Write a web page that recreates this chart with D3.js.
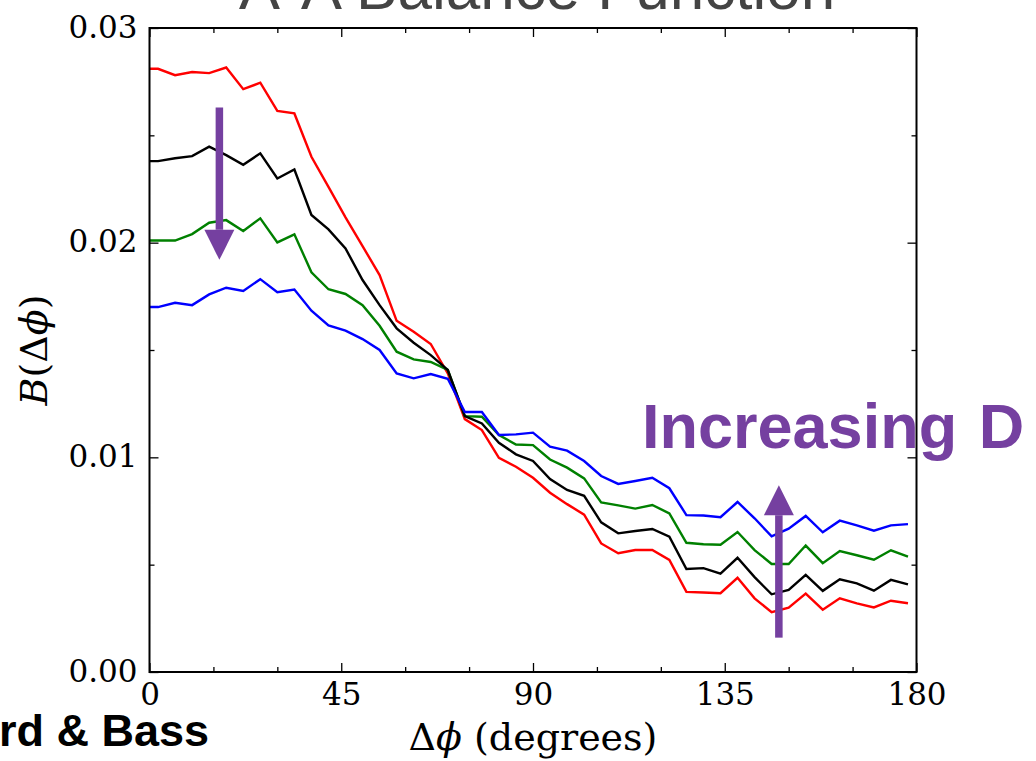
<!DOCTYPE html>
<html>
<head>
<meta charset="utf-8">
<script src="https://cdn.jsdelivr.net/npm/d3@7"></script>
<style>
  body { margin: 0; background: #fff; }
  svg { display: block; }
</style>
</head>
<body>
<div id="wrapper"></div>
<script>
// bin centres in degrees (line starts at the axis)
const angles = [0, 2, 6, 10, 14, 18, 22, 26, 30, 34, 38, 42, 46, 50, 54, 58, 62, 66, 70, 74,
  78, 82, 86, 90, 94, 98, 102, 106, 110, 114, 118, 122, 126, 130, 134, 138, 142, 146, 150,
  154, 158, 162, 166, 170, 174, 178]

const redValues = [0.0281, 0.0281, 0.0278, 0.02795, 0.0279, 0.02816, 0.02715, 0.02745, 0.02614,
  0.02602, 0.0240, 0.0226, 0.02118, 0.01984, 0.01849, 0.01636, 0.01585, 0.01528, 0.01391,
  0.01178, 0.01127, 0.00998, 0.00956, 0.00905, 0.00835, 0.00782, 0.00733, 0.00599, 0.00553,
  0.00568, 0.00568, 0.00522, 0.00373, 0.0037, 0.00367, 0.00439, 0.00343, 0.00279, 0.003,
  0.00365, 0.0029, 0.00343, 0.0032, 0.00301, 0.00332, 0.0032]

const blackValues = [0.0238, 0.0238, 0.02393, 0.02403, 0.02447, 0.02408, 0.02363, 0.02416,
  0.02299, 0.02341, 0.02129, 0.02062, 0.01973, 0.01826, 0.01709, 0.01601, 0.01534, 0.01476,
  0.01407, 0.01192, 0.01158, 0.01068, 0.01014, 0.00983, 0.00899, 0.00848, 0.00821, 0.00697,
  0.00646, 0.00657, 0.00666, 0.0063, 0.0048, 0.00484, 0.00458, 0.00532, 0.00442, 0.00362,
  0.00382, 0.00452, 0.00378, 0.00432, 0.00413, 0.00379, 0.00429, 0.00408]

const greenValues = [0.0201, 0.0201, 0.0201, 0.0204, 0.02093, 0.02105, 0.02054, 0.02113,
  0.02001, 0.02039, 0.01862, 0.01783, 0.01761, 0.01709, 0.01613, 0.01492, 0.01456, 0.01444,
  0.01407, 0.01192, 0.01189, 0.01104, 0.0106, 0.01057, 0.0099, 0.00952, 0.00902, 0.0079,
  0.00776, 0.00761, 0.00778, 0.00739, 0.00602, 0.00595, 0.00593, 0.00652, 0.00568, 0.00503,
  0.00503, 0.00589, 0.00507, 0.00563, 0.00544, 0.00523, 0.00567, 0.00537]

const blueValues = [0.0170, 0.0170, 0.0172, 0.01709, 0.01759, 0.0179, 0.01775, 0.0183,
  0.01769, 0.01782, 0.01683, 0.01615, 0.0159, 0.01551, 0.015, 0.01391, 0.01368, 0.01388,
  0.01366, 0.01211, 0.01211, 0.01104, 0.01107, 0.01115, 0.0105, 0.01031, 0.00983, 0.00913,
  0.00876, 0.0089, 0.00905, 0.00856, 0.00731, 0.00729, 0.00721, 0.00792, 0.00716, 0.00632,
  0.00668, 0.00727, 0.00651, 0.00705, 0.00683, 0.00658, 0.00683, 0.00689]

const xMajorTicks = [0, 45, 90, 135, 180]
const xMinorTicks = [15, 30, 60, 75, 105, 120, 150, 165]
const yMajorTicks = [0, 0.01, 0.02, 0.03]
const yMinorTicks = [0.005, 0.015, 0.025]

// annotation arrows in data units: [x, yStart, yTip]
const arrows = [
  [16.4, 0.0263, 0.0192],
  [147.7, 0.0016, 0.0087],
]

const series = [
  { name: "red", color: "#ff0000", values: redValues },
  { name: "green", color: "#008000", values: greenValues },
  { name: "black", color: "#000000", values: blackValues },
  { name: "blue", color: "#0000ff", values: blueValues },
]

const purple = "#7540a0"

const dimensions = {
  width: 1036,
  height: 761,
  margins: { top: 28, right: 119.5, bottom: 89, left: 149.5 },
}
dimensions.boundedWidth = dimensions.width - dimensions.margins.left - dimensions.margins.right
dimensions.boundedHeight = dimensions.height - dimensions.margins.top - dimensions.margins.bottom

const svg = d3.select("#wrapper")
  .append("svg")
  .attr("width", dimensions.width)
  .attr("height", dimensions.height)

const bounds = svg.append("g")
  .attr("transform", `translate(${dimensions.margins.left},${dimensions.margins.top})`)

const xScale = d3.scaleLinear().domain([0, 180]).range([0, dimensions.boundedWidth])
const yScale = d3.scaleLinear().domain([0, 0.03]).range([dimensions.boundedHeight, 0])

const serif = "'DejaVu Serif', serif"
const sans = "'Liberation Sans', Arial, sans-serif"

// lines
const lineGenerator = d3.line()
  .x((d, i) => xScale(angles[i]))
  .y((d) => yScale(d))

bounds.selectAll(".series")
  .data(series)
  .join("path")
  .attr("class", "series")
  .attr("d", (s) => lineGenerator(s.values))
  .attr("fill", "none")
  .attr("stroke", (s) => s.color)
  .attr("stroke-width", 2.4)
  .attr("stroke-linejoin", "miter")

// axes, ticks pointing inwards on all four sides
const styleAxis = (g) => {
  g.select(".domain").remove()
  g.selectAll(".tick line").attr("stroke", "#000").attr("stroke-width", 1.3)
  g.selectAll("text").attr("fill", "#000").style("font-family", serif).style("font-size", "31px")
}

const H = dimensions.boundedHeight
const W = dimensions.boundedWidth

bounds.append("g").attr("transform", `translate(0,${H})`)
  .call(d3.axisBottom(xScale).tickValues(xMajorTicks).tickSize(-9).tickPadding(11).tickFormat(d3.format("d")))
  .call(styleAxis)
bounds.append("g").attr("transform", `translate(0,${H})`)
  .call(d3.axisBottom(xScale).tickValues(xMinorTicks).tickSize(-5).tickFormat(""))
  .call(styleAxis)
bounds.append("g")
  .call(d3.axisTop(xScale).tickValues(xMajorTicks).tickSize(-9).tickFormat(""))
  .call(styleAxis)
bounds.append("g")
  .call(d3.axisTop(xScale).tickValues(xMinorTicks).tickSize(-5).tickFormat(""))
  .call(styleAxis)

bounds.append("g")
  .call(d3.axisLeft(yScale).tickValues(yMajorTicks).tickSize(-9).tickPadding(12).tickFormat(d3.format(".2f")))
  .call(styleAxis)
  .call((g) => g.selectAll("text").attr("dy", "0.3em"))
bounds.append("g")
  .call(d3.axisLeft(yScale).tickValues(yMinorTicks).tickSize(-5).tickFormat(""))
  .call(styleAxis)
bounds.append("g").attr("transform", `translate(${W},0)`)
  .call(d3.axisRight(yScale).tickValues(yMajorTicks).tickSize(-9).tickFormat(""))
  .call(styleAxis)
bounds.append("g").attr("transform", `translate(${W},0)`)
  .call(d3.axisRight(yScale).tickValues(yMinorTicks).tickSize(-5).tickFormat(""))
  .call(styleAxis)

// frame
bounds.append("rect")
  .attr("width", W)
  .attr("height", H)
  .attr("fill", "none")
  .attr("stroke", "#000")
  .attr("stroke-width", 2)

// axis labels
const xLabel = svg.append("text")
  .attr("x", dimensions.margins.left + W / 2)
  .attr("y", 750)
  .attr("text-anchor", "middle")
  .style("font-family", serif)
  .style("font-size", "38px")
xLabel.append("tspan").text("Δ")
xLabel.append("tspan").style("font-style", "italic").text("ϕ")
xLabel.append("tspan").text(" (degrees)")

const yLabel = svg.append("text")
  .attr("transform", `translate(47,${dimensions.margins.top + H / 2}) rotate(-90)`)
  .attr("text-anchor", "middle")
  .style("font-family", serif)
  .style("font-size", "38px")
yLabel.append("tspan").style("font-style", "italic").text("B")
yLabel.append("tspan").text("(Δ")
yLabel.append("tspan").style("font-style", "italic").text("ϕ")
yLabel.append("tspan").text(")")

// annotation arrows
const arrowG = bounds.append("g")
arrows.forEach(([ax, y0, y1]) => {
  const x = xScale(ax)
  const ys = yScale(y0)
  const yt = yScale(y1)
  const dir = Math.sign(yt - ys)
  const headLen = 30
  const headHalf = 15
  arrowG.append("line")
    .attr("x1", x).attr("x2", x)
    .attr("y1", ys).attr("y2", yt - dir * headLen)
    .attr("stroke", purple)
    .attr("stroke-width", 7.5)
  arrowG.append("path")
    .attr("d", `M${x - headHalf},${yt - dir * headLen} L${x + headHalf},${yt - dir * headLen} L${x},${yt} Z`)
    .attr("fill", purple)
})

svg.append("text")
  .attr("x", 642)
  .attr("y", 448)
  .attr("fill", purple)
  .style("font-family", sans)
  .style("font-weight", "bold")
  .style("font-size", "63px")
  .style("word-spacing", "4px")
  .text("Increasing D")

// slide text cut off at the edges
svg.append("text")
  .attr("x", 209)
  .attr("y", 746)
  .attr("text-anchor", "end")
  .attr("fill", "#000")
  .style("font-family", sans)
  .style("font-weight", "bold")
  .style("font-size", "45px")
  .text("rd & Bass")

svg.append("text")
  .attr("x", 537)
  .attr("y", 9)
  .attr("text-anchor", "middle")
  .attr("fill", "#444")
  .style("font-family", sans)
  .style("font-size", "62px")
  .text("Λ-Λ Balance Function")
</script>
</body>
</html>
